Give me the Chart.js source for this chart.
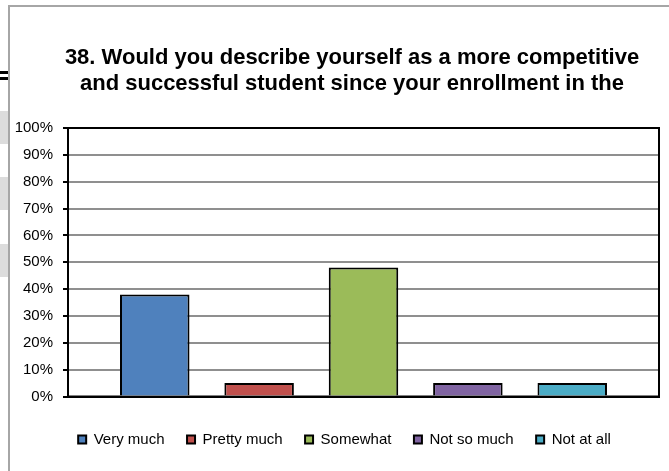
<!DOCTYPE html>
<html>
<head>
<meta charset="utf-8">
<script src="https://cdn.jsdelivr.net/npm/chart.js@4/dist/chart.umd.min.js"></script>
<style>
  html, body { margin: 0; padding: 0; background: #fff; overflow: hidden; }
  #wrap { position: relative; width: 669px; height: 471px; }
  #frame { position: absolute; left: 8px; top: 5px; width: 800px; height: 600px; border: 2px solid #a6a6a6; box-sizing: border-box; }
  .dash { position: absolute; left: 0; width: 8px; height: 3px; background: #000; }
  .band { position: absolute; left: 0; width: 8px; background: #dcdcdc; }
  canvas { position: absolute; left: 0; top: 0; }
</style>
</head>
<body>
<div id="wrap">
  <div class="dash" style="top:71px"></div>
  <div class="dash" style="top:77px"></div>
  <div class="band" style="top:111px;height:33px"></div>
  <div class="band" style="top:177px;height:33px"></div>
  <div class="band" style="top:244px;height:33px"></div>
  <div id="frame"></div>
  <canvas id="c" width="669" height="471"></canvas>
</div>
<script>
const titleLines = [
  "38. Would you describe yourself as a more competitive",
  "and successful student since your enrollment in the"
];
const categories = [""];
const seriesNames = ["Very much", "Pretty much", "Somewhat", "Not so much", "Not at all"];
const seriesValues = [38, 5, 48, 5, 5];
const seriesColors = ["#4F81BD", "#C0504D", "#9BBB59", "#8064A2", "#4BACC6"];
const yTicks = [0, 10, 20, 30, 40, 50, 60, 70, 80, 90, 100];

const FONT = "'Liberation Sans', Arial, sans-serif";

const titlePlugin = {
  id: 'customTitle',
  afterDraw(chart) {
    const ctx = chart.ctx;
    ctx.save();
    ctx.fillStyle = '#000';
    ctx.font = "bold 22px " + FONT;
    ctx.textAlign = 'center';
    ctx.textBaseline = 'alphabetic';
    ctx.fillText(titleLines[0], 352, 64);
    ctx.fillText(titleLines[1], 352, 90);
    ctx.restore();
  }
};

const borderPlugin = {
  id: 'plotBorder',
  beforeDatasetsDraw(chart) {
    const a = chart.chartArea;
    const ctx = chart.ctx;
    ctx.save();
    ctx.strokeStyle = '#000';
    ctx.lineWidth = 2;
    ctx.strokeRect(a.left, a.top, a.right - a.left, a.bottom - a.top);
    ctx.restore();
  }
};

const legendShift = {
  id: 'legendShift',
  afterLayout(chart) {
    const lg = chart.legend;
    if (lg) { lg.left += 11; lg.right += 11; }
  }
};

const datasets = seriesNames.map((name, i) => ({
  label: name,
  data: [seriesValues[i]],
  backgroundColor: seriesColors[i],
  borderColor: '#000',
  borderWidth: 2,
  categoryPercentage: 0.883,
  barPercentage: 0.666
}));

new Chart(document.getElementById('c'), {
  type: 'bar',
  data: { labels: categories, datasets },
  plugins: [borderPlugin, titlePlugin, legendShift],
  options: {
    responsive: false,
    animation: false,
    layout: { padding: { left: 8, right: 10, top: 128, bottom: 14 } },
    plugins: {
      title: { display: false },
      tooltip: { enabled: false },
      legend: {
        position: 'bottom',
        labels: {
          boxWidth: 8,
          boxHeight: 8,
          padding: 22.5,
          color: '#000',
          font: { family: FONT, size: 15 }
        }
      }
    },
    scales: {
      x: {
        grid: { display: false },
        border: { display: true, color: '#000', width: 2 },
        ticks: { display: false },
        afterFit(s) { s.height = 13; }
      },
      y: {
        min: 0,
        max: 100,
        afterBuildTicks(s) { s.ticks = yTicks.map(v => ({ value: v })); },
        afterFit(s) { s.width = 60; },
        ticks: {
          padding: 10,
          color: '#000',
          font: { family: FONT, size: 15 },
          callback: v => v + '%'
        },
        grid: {
          color: ctx => (ctx.tick && (ctx.tick.value === 0 || ctx.tick.value === 100)) ? '#000' : '#8f8f8f',
          lineWidth: 2,
          tickColor: '#000',
          tickLength: 5,
          drawTicks: true
        },
        border: { display: true, color: '#000', width: 2 }
      }
    }
  }
});
</script>
</body>
</html>
